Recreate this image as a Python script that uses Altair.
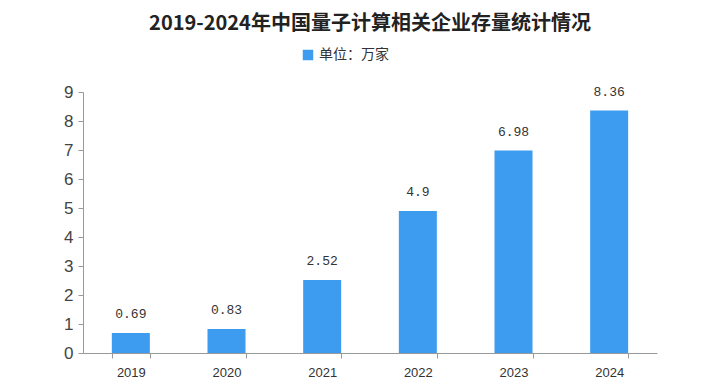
import altair as alt
import pandas as pd

years = ["2019", "2020", "2021", "2022", "2023", "2024"]
values = [0.69, 0.83, 2.52, 4.9, 6.98, 8.36]
labels = ["0.69", "0.83", "2.52", "4.9", "6.98", "8.36"]
y_ticks = [0, 1, 2, 3, 4, 5, 6, 7, 8, 9]
series = "单位：万家"

df = pd.DataFrame({"year": years, "value": values, "label": labels, "series": [series] * len(years)})

base = alt.Chart(df)

x_axis = alt.Axis(labelAngle=0, tickBand="extent", domainColor="#999999", tickColor="#999999",
                  labelFont="Liberation Sans", labelFontSize=13, labelColor="#333333",
                  labelPadding=8, tickSize=5)
y_axis = alt.Axis(values=y_ticks, grid=False, domainColor="#999999", tickColor="#999999",
                  labelFont="Liberation Sans", labelFontSize=17, labelColor="#444444",
                  tickSize=5, labelPadding=5, labelOverlap=False)
y_scale = alt.Scale(domain=[0, 9], nice=False)

bars = base.mark_bar(size=38, color="#3d9cf0").encode(
    x=alt.X("year:N", sort=years, title=None,
            scale=alt.Scale(paddingInner=0.6, paddingOuter=0.3),
            axis=x_axis),
    y=alt.Y("value:Q", title=None, scale=y_scale, axis=y_axis),
    color=alt.Color("series:N", scale=alt.Scale(range=["#3d9cf0"]), title=None,
                    legend=alt.Legend(orient="none", legendX=218, legendY=-44, symbolType="square",
                                      symbolSize=110, labelFont="Noto Sans CJK SC", labelFontSize=14,
                                      labelColor="#333333", symbolStrokeWidth=0)),
)

text = base.mark_text(baseline="bottom", dy=-12, font="Liberation Mono", fontSize=13, color="#333333").encode(
    x=alt.X("year:N", sort=years, axis=x_axis, title=None),
    y=alt.Y("value:Q", title=None, scale=y_scale, axis=y_axis),
    text="label:N",
)

chart = (bars + text).properties(
    width=574, height=261,
    title=alt.TitleParams("2019-2024年中国量子计算相关企业存量统计情况", font="Noto Sans CJK SC",
                          fontSize=20, fontWeight="bold", color="#222222", anchor="middle", offset=14),
    autosize=alt.AutoSizeParams(type="none"),
    padding={"left": 75, "top": 84, "right": 40, "bottom": 30},
).configure_view(stroke=None)

chart.save("out.html", embed_options={"renderer": "svg", "actions": False})
